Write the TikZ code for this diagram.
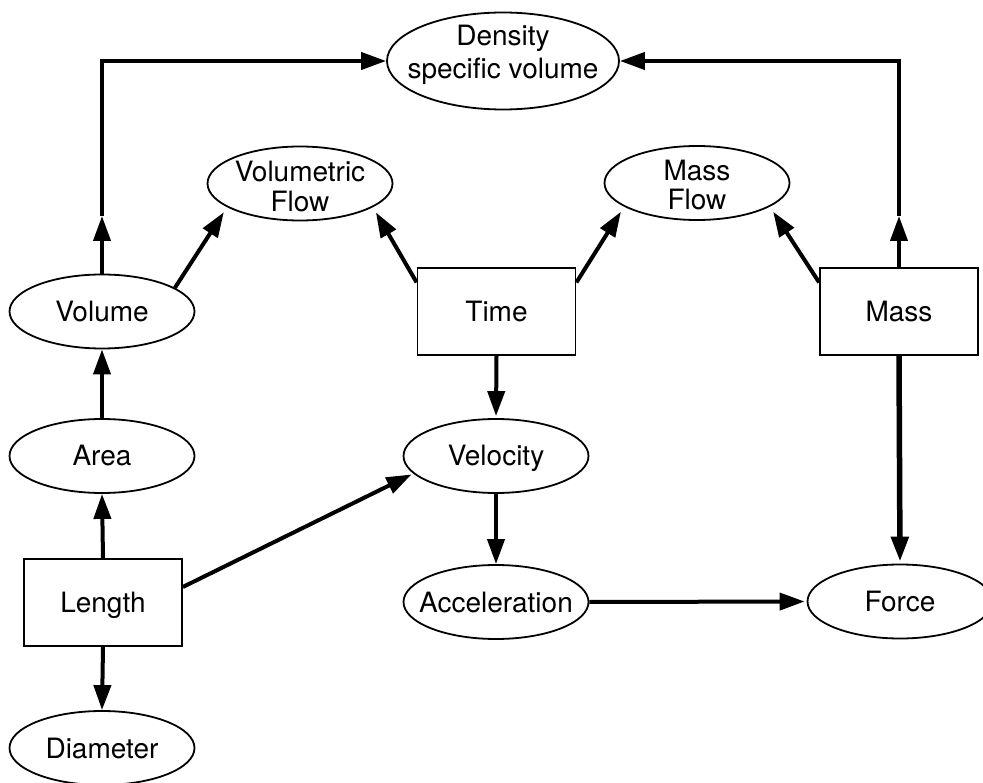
\documentclass[tikz,border=0pt]{standalone}
\usepackage{fontspec}
\setmainfont{TeX Gyre Heros}
\usetikzlibrary{shapes.geometric,arrows.meta}
\begin{document}
\begin{tikzpicture}[x=1pt,y=-1pt,
  txt/.style={font=\fontsize{28}{31}\selectfont},
  oval/.style={ellipse,draw,line width=1.8pt,minimum width=185pt,minimum height=74pt,
    inner xsep=-40pt,inner ysep=0pt,text height=20pt,text depth=0pt,txt},
  box/.style={rectangle,draw,line width=1.8pt,minimum width=158pt,minimum height=87pt,
    inner sep=0pt,text height=20pt,text depth=0pt,txt},
  lbl/.style={anchor=base,inner sep=0pt,txt},
  conn/.style={line width=4pt,-{Triangle[length=25pt,width=17pt]}},
  heavy/.style={conn,line width=5.5pt}]
\useasboundingbox (0,0) rectangle (983,783);
\clip (0,0) rectangle (983,783);

% nodes
\node[oval,minimum width=232pt,minimum height=97pt] (dens) at (503,61) {};
\node[lbl] (densA) at (503,46) {Density};
\node[lbl] (densB) at (503,79) {specific volume};

\node[oval] (vflow) at (300,183.5) {};
\node[lbl] (vflowA) at (300,182) {Volumetric};
\node[lbl] (vflowB) at (300,212) {Flow};

\node[oval] (mflow) at (697,183) {};
\node[lbl] (mflowA) at (697,181) {Mass};
\node[lbl] (mflowB) at (697,210) {Flow};

\node[oval] (vol) at (102,311.5) {Volume};
\node[box] (time) at (496.5,311.5) {Time};
\node[box] (mass) at (899,311.5) {Mass};
\node[oval] (area) at (102,456) {Area};
\node[oval] (vel) at (496,456) {Velocity};
\node[box] (len) at (103,602.5) {Length};
\node[oval] (acc) at (496,602) {Acceleration};
\node[oval] (force) at (900,601.5) {Force};
\node[oval] (diam) at (102,748) {Diameter};

\coordinate (vtip) at (102,216);
\coordinate (mtip) at (899,216);

% connectors
\draw[conn] (vol.north) -- (vtip);
\draw[conn] (vtip) |- (dens.west);
\draw[conn] (mass.north) -- (mtip);
\draw[conn] (mtip) |- (dens.east);

\draw[conn,shorten >=6pt] (vol.18) -- (vflow.198);
\draw[conn,shorten >=6pt] (time.160) -- (vflow.342);
\draw[conn,shorten >=6pt] (time.20) -- (mflow.198);
\draw[conn,shorten >=6pt] (mass.160) -- (mflow.342);

\draw[conn] (area.north) -- (vol.south);
\draw[conn] (len.north) -- (area.south);
\draw[conn] (len.south) -- (diam.north);
\draw[conn,shorten >=2pt] (time.south) -- (vel.north);
\draw[conn] (vel.south) -- (acc.north);
\draw[conn,shorten >=2pt] (len.11) -- (vel.192);
\draw[conn,shorten >=2pt] (acc.east) -- (force.west);
\draw[heavy,shorten >=2pt] (mass.south) -- (force.north);
\end{tikzpicture}
\end{document}
